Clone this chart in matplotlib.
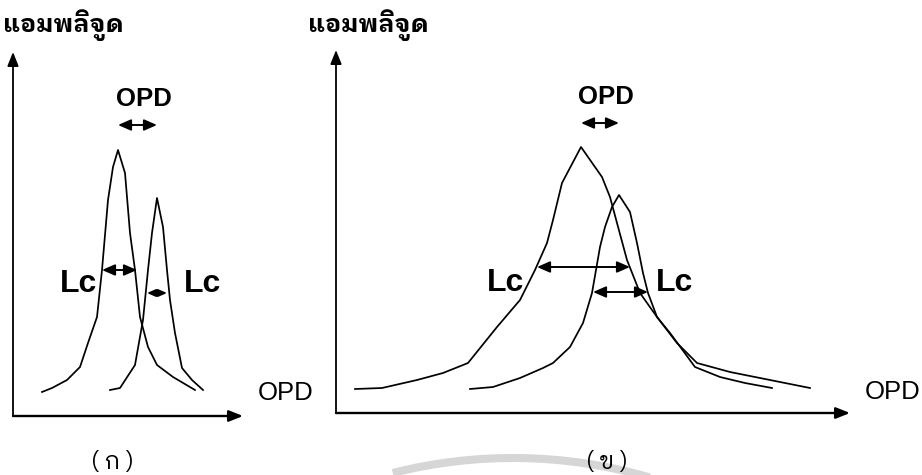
#!/usr/bin/env python3
"""Two schematic interferogram envelopes: narrow (ก) and broad (ข) sources."""

import matplotlib

matplotlib.use("Agg")
import matplotlib.pyplot as plt
from matplotlib import font_manager
from matplotlib.ft2font import FT2Font
from matplotlib.patches import Arc

# ── Panel (ก): narrow coherence envelopes (OPD, amplitude) ──────────
a_first_x = [29, 39, 54, 67, 75, 84, 89, 95, 100, 105, 112, 117, 122, 127, 135, 144, 160, 182]
a_first_y = [24, 28, 36, 49, 73, 99, 146, 216, 249, 266, 243, 183, 146, 99, 69, 51, 39, 26]
a_second_x = [97, 107, 122, 130, 135, 139, 144, 150, 154, 157, 162, 169, 179, 190]
a_second_y = [26, 28, 51, 96, 146, 183, 218, 189, 146, 116, 83, 48, 36, 26]
a_opd_span = (105, 144, 291)
a_lc_spans = [(89, 124, 146), (134, 154, 123)]

# ── Panel (ข): broad coherence envelopes ────────────────────────────
b_first_x = [19, 46, 81, 107, 132, 161, 184, 199, 211, 217, 226, 245, 266, 274,
             281, 291, 304, 321, 334, 359, 384, 409, 436]
b_first_y = [24, 25, 33, 40, 50, 86, 113, 143, 170, 193, 230, 266, 236, 216,
             190, 153, 120, 96, 80, 46, 36, 30, 25]
b_second_x = [134, 157, 184, 207, 217, 234, 247, 256, 260, 264, 269, 276, 283,
              294, 301, 307, 312, 321, 341, 361, 394, 434, 474]
b_second_y = [24, 26, 35, 45, 50, 66, 90, 120, 143, 166, 186, 206, 218,
              201, 170, 140, 120, 96, 70, 50, 41, 33, 25]
b_opd_span = (245, 283, 290)
b_lc_spans = [(201, 294, 146), (257, 312, 121)]

y_label = "แอมพลิจูด"
x_label = "OPD"
lc_label = "Lc"
panel_tags = ["( ก )", "( ข )"]


def find_thai_family():
    """Pick an installed family that covers Thai; looped, bold faces first."""
    found = []
    for entry in font_manager.fontManager.ttflist:
        try:
            cmap = FT2Font(entry.fname).get_charmap()
        except Exception:
            continue
        if 0x0E41 in cmap and 0x0E14 in cmap and 0x0E39 in cmap:
            found.append(entry)
    if not found:
        return "DejaVu Sans"
    looped = ("looped", "loma", "garuda", "norasi", "tlwg", "umpush")
    found.sort(key=lambda e: (0 if any(k in e.name.lower() for k in looped) else 1,
                              0 if "thai" in e.name.lower() else 1,
                              0 if e.weight in ("bold", 700) else 1))
    return found[0].name


def double_arrow(ax, x0, x1, y):
    # short spans get smaller heads so the shaft stays visible
    scale = min(14, 0.45 * (x1 - x0))
    ax.annotate("", xy=(x1, y), xytext=(x0, y),
                arrowprops=dict(arrowstyle="<|-|>,head_length=0.55,head_width=0.24",
                                color="black", lw=1.4, shrinkA=0, shrinkB=0,
                                mutation_scale=scale))


def draw_panel(ax, xmax, ymax, curves, opd_span, lc_spans, lc_pos, opd_pos,
               xlabel_pos, title_pos, tag_pos, tag, thai):
    ax.set_xlim(0, xmax)
    ax.set_ylim(0, ymax)
    ax.set_axis_off()

    # axes drawn as arrows
    head = "-|>,head_length=0.7,head_width=0.28"
    ax.annotate("", xy=(xmax, 0), xytext=(0, 0),
                arrowprops=dict(arrowstyle=head, color="black", lw=1.7,
                                shrinkA=0, shrinkB=0, mutation_scale=12))
    ax.annotate("", xy=(0, ymax), xytext=(0, 0),
                arrowprops=dict(arrowstyle=head, color="black", lw=1.3,
                                shrinkA=0, shrinkB=0, mutation_scale=12))

    for xs, ys in curves:
        ax.plot(xs, ys, color="black", lw=1.25, solid_joinstyle="round")

    double_arrow(ax, *opd_span)
    for span in lc_spans:
        double_arrow(ax, *span)

    ax.text(*opd_pos, x_label, ha="center", va="center", fontsize=18.5,
            family="Liberation Sans", weight="bold", clip_on=False)
    for pos in lc_pos:
        ax.text(*pos, lc_label, ha="center", va="center", fontsize=23,
                family="Liberation Sans", weight="bold", clip_on=False)
    ax.text(*xlabel_pos, x_label, ha="center", va="center", fontsize=18.5,
            family=["Liberation Sans Narrow", "Liberation Sans"], clip_on=False)
    ax.text(*title_pos, y_label, ha="center", va="center", fontsize=18,
            family=[thai, "DejaVu Sans"], weight="bold", clip_on=False)
    ax.text(*tag_pos, tag, ha="center", va="center", fontsize=17,
            family=[thai, "DejaVu Sans"], clip_on=False)


def main() -> None:
    thai = find_thai_family()

    fig = plt.figure(figsize=(9.22, 4.75), dpi=100)
    W, H = 922, 475

    # panel (ก): origin at pixel (13, 416)
    ax_a = fig.add_axes([13 / W, (H - 416) / H, 230 / W, 364 / H])
    draw_panel(ax_a, 230, 364,
               [(a_first_x, a_first_y), (a_second_x, a_second_y)],
               a_opd_span, a_lc_spans,
               lc_pos=[(66, 132), (190, 132)], opd_pos=(131, 317),
               xlabel_pos=(273, 23), title_pos=(50, 391),
               tag_pos=(99, -46), tag=panel_tags[0], thai=thai)

    # panel (ข): origin at pixel (336, 413)
    ax_b = fig.add_axes([336 / W, (H - 413) / H, 514 / W, 363 / H])
    draw_panel(ax_b, 514, 363,
               [(b_first_x, b_first_y), (b_second_x, b_second_y)],
               b_opd_span, b_lc_spans,
               lc_pos=[(169, 130), (339, 130)], opd_pos=(270, 316),
               xlabel_pos=(557, 21), title_pos=(32, 388),
               tag_pos=(271, -49), tag=panel_tags[1], thai=thai)

    # faint watermark arc at the bottom edge
    ax_b.add_patch(Arc((177, -535), 980, 980, theta1=73.8, theta2=104.2,
                       color="#d6d6d6", lw=5.8, zorder=0, clip_on=False))

    fig.savefig("out.png", dpi=100, facecolor="white")
    plt.close(fig)


if __name__ == "__main__":
    main()
